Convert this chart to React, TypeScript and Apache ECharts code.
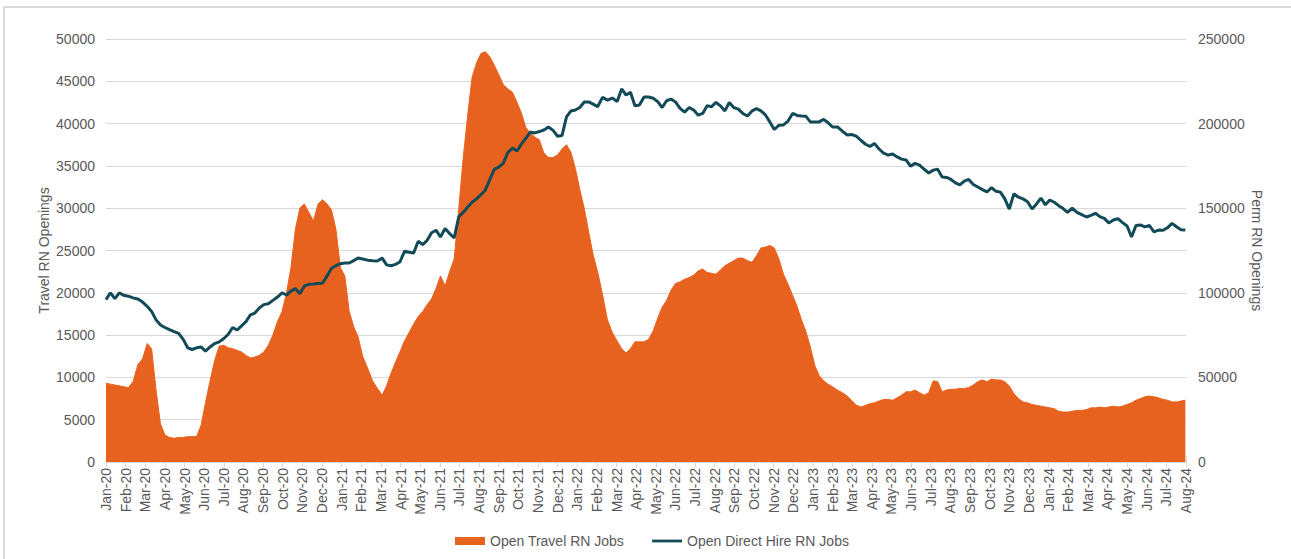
import React, { useEffect, useRef } from 'react';
import * as echarts from 'echarts';

const monthLabels = [
  'Jan-20','Feb-20','Mar-20','Apr-20','May-20','Jun-20','Jul-20','Aug-20','Sep-20','Oct-20','Nov-20','Dec-20',
  'Jan-21','Feb-21','Mar-21','Apr-21','May-21','Jun-21','Jul-21','Aug-21','Sep-21','Oct-21','Nov-21','Dec-21',
  'Jan-22','Feb-22','Mar-22','Apr-22','May-22','Jun-22','Jul-22','Aug-22','Sep-22','Oct-22','Nov-22','Dec-22',
  'Jan-23','Feb-23','Mar-23','Apr-23','May-23','Jun-23','Jul-23','Aug-23','Sep-23','Oct-23','Nov-23','Dec-23',
  'Jan-24','Feb-24','Mar-24','Apr-24','May-24','Jun-24','Jul-24','Aug-24',
];

// Weekly readings, starting on 1 Jan 2020
const travelJobs = [
  9300, 9200, 9100, 9000, 8900, 8800, 9500, 11500, 12200, 14000,
  13400, 8500, 4500, 3200, 2900, 2800, 2900, 2900, 3000, 3000,
  3000, 4300, 7000, 9600, 12000, 13700, 13800, 13500, 13400, 13200,
  13000, 12600, 12300, 12400, 12600, 13000, 13800, 15000, 16600, 17800,
  20000, 23000, 27500, 30000, 30500, 29500, 28500, 30500, 31000, 30500,
  29800, 27500, 23000, 22000, 17800, 16000, 14800, 12500, 11100, 9600,
  8700, 7900, 9000, 10500, 11800, 13000, 14300, 15300, 16300, 17200,
  17800, 18600, 19300, 20500, 22000, 20800, 22500, 24000, 30000, 36000,
  41000, 45500, 47200, 48300, 48500, 47900, 46900, 45800, 44600, 44100,
  43700, 42500, 41200, 39500, 38900, 38400, 38100, 36500, 36000, 36000,
  36300, 37000, 37500, 36600, 34700, 32200, 30000, 27200, 24500, 22500,
  19800, 16800, 15300, 14300, 13400, 12900, 13400, 14200, 14200, 14200,
  14500, 15500, 17000, 18300, 19100, 20300, 21100, 21300, 21600, 21800,
  22100, 22600, 22800, 22400, 22300, 22200, 22700, 23200, 23500, 23800,
  24100, 24100, 23800, 23600, 24400, 25300, 25400, 25600, 25300, 24000,
  22200, 21000, 19700, 18400, 16800, 15400, 13600, 11400, 10200, 9600,
  9200, 8900, 8500, 8200, 7800, 7200, 6700, 6500, 6700, 6900,
  7000, 7200, 7400, 7400, 7300, 7600, 7900, 8300, 8300, 8500,
  8200, 7900, 8200, 9600, 9500, 8300, 8500, 8600, 8600, 8700,
  8700, 8800, 9100, 9500, 9700, 9500, 9800, 9700, 9700, 9500,
  9000, 8100, 7500, 7100, 7000, 6800, 6700, 6600, 6500, 6400,
  6300, 6000, 5900, 5900, 6000, 6100, 6100, 6200, 6400, 6400,
  6500, 6400, 6500, 6600, 6500, 6600, 6800, 7000, 7300, 7500,
  7700, 7800, 7700, 7600, 7400, 7300, 7100, 7100, 7200, 7300,
];

const directHireJobs = [
  96000, 100000, 96500, 100000, 98500, 98000, 97000, 96300, 94500, 92000,
  89000, 84000, 81000, 79500, 78200, 77000, 76000, 72500, 67500, 66500,
  67500, 68000, 65500, 68000, 70000, 71000, 73000, 75500, 79500, 78000,
  80500, 83000, 87000, 88000, 91000, 93000, 93500, 95500, 97500, 99900,
  98700, 101000, 102500, 99500, 104000, 105000, 105200, 105500, 105800, 110000,
  114500, 116000, 117200, 117600, 117600, 119000, 120600, 120000, 119300, 119000,
  118800, 120500, 116500, 116000, 116800, 118200, 124500, 124000, 123500, 130500,
  128500, 131000, 135500, 137000, 133000, 138000, 135000, 132500, 145000, 147500,
  150700, 153500, 155500, 158000, 160800, 167000, 173000, 174300, 176700, 183000,
  185500, 183800, 188000, 191500, 195000, 194500, 195300, 196200, 198000, 196000,
  192500, 193000, 204000, 207500, 208000, 209500, 212800, 212800, 211500, 210000,
  215500, 213900, 215100, 213000, 220500, 216900, 218500, 210500, 211000, 215700,
  215700, 215000, 213000, 209500, 213500, 214500, 212800, 209000, 206800, 209500,
  208000, 205000, 206000, 210500, 210000, 212500, 210500, 207500, 212500, 209500,
  208500, 206000, 204500, 207500, 208800, 207500, 205100, 201000, 196500, 199000,
  199200, 201500, 206000, 204800, 204500, 204300, 201000, 200900, 201000, 202500,
  200500, 198000, 198000, 195500, 193300, 193500, 192500, 190000, 187800, 186500,
  188300, 185000, 182500, 181400, 182000, 180300, 179000, 178500, 174800, 176500,
  175500, 173000, 170800, 172500, 173000, 168500, 168200, 167000, 165000, 163800,
  166000, 167000, 164000, 162500, 161000, 159600, 162200, 160000, 159500, 155500,
  149500, 158500, 156500, 155500, 153800, 149500, 152500, 156000, 152000, 154800,
  153500, 151500, 149800, 147500, 150000, 147500, 146200, 144800, 145800, 147000,
  145000, 144000, 141300, 143000, 143800, 141500, 139500, 133000, 139800, 140100,
  139000, 139800, 136000, 137100, 137000, 138500, 141000, 139000, 137300, 137100,
];

const START = Date.UTC(2020, 0, 1);
const DAY = 86400000;

// position of the i-th weekly reading in months since Jan-20
function monthPosition(i: number): number {
  const d = new Date(START + i * 7 * DAY);
  const y = d.getUTCFullYear();
  const m = d.getUTCMonth();
  const day = d.getUTCDate();
  const dim = new Date(Date.UTC(y, m + 1, 0)).getUTCDate();
  return (y - 2020) * 12 + m + (day - 1) / dim;
}

const ORANGE = '#E8621F';
const TEAL = '#124B57';
const TEXT = '#595959';
const GRID = '#D9D9D9';
const FONT = '"Liberation Sans", Arial, sans-serif';

// thin horizontal bar centred in a 30x8 box (extra moveTo points keep the box size)
const LINE_ICON = 'path://M0,0 M0,2.6 L30,2.6 L30,5.4 L0,5.4 Z M30,8';

export default function App() {
  const ref = useRef<HTMLDivElement>(null);

  useEffect(() => {
    if (!ref.current) return;
    const chart = echarts.init(ref.current, undefined, { renderer: 'svg' });
    const travelData = travelJobs.map((v, i) => [monthPosition(i), v]);
    const directData = directHireJobs.map((v, i) => [monthPosition(i), v]);

    chart.setOption({
      animation: false,
      textStyle: { fontFamily: FONT },
      graphic: [
        {
          type: 'rect',
          shape: { x: 4, y: 7, width: 1300, height: 600 },
          style: { fill: 'none', stroke: GRID, lineWidth: 2 },
          silent: true,
          z: -10,
        },
      ],
      grid: { left: 106, right: 105, top: 39, bottom: 97, containLabel: false },
      legend: {
        bottom: 6,
        left: 450,
        itemWidth: 30,
        itemHeight: 8,
        itemGap: 28,
        textStyle: { color: TEXT, fontSize: 14, fontFamily: FONT },
        data: [
          { name: 'Open Travel RN Jobs', icon: 'rect' },
          { name: 'Open Direct Hire RN Jobs', icon: LINE_ICON, itemStyle: { color: TEAL, borderWidth: 0 } },
        ],
      },
      xAxis: [
        {
          type: 'value',
          min: 0,
          max: 55,
          interval: 1,
          position: 'bottom',
          axisLine: { show: true, lineStyle: { color: GRID, width: 1 } },
          axisTick: { show: true, length: 5, lineStyle: { color: GRID } },
          splitLine: { show: false },
          axisLabel: {
            rotate: 90,
            color: TEXT,
            fontSize: 14,
            fontFamily: FONT,
            margin: 6,
            formatter: (v: number) => monthLabels[Math.round(v)] ?? '',
          },
        },
        {
          type: 'value',
          min: 0,
          max: 56,
          interval: 2,
          position: 'top',
          axisLine: { show: true, lineStyle: { color: GRID, width: 1 } },
          axisTick: { show: true, length: 6, lineStyle: { color: GRID } },
          axisLabel: { show: false },
          splitLine: { show: false },
        },
      ],
      yAxis: [
        {
          type: 'value',
          min: 0,
          max: 50000,
          interval: 5000,
          name: 'Travel RN Openings',
          nameLocation: 'middle',
          nameGap: 55,
          nameMoveOverlap: false,
          nameTextStyle: { color: TEXT, fontSize: 14, fontFamily: FONT },
          axisLine: { show: false },
          axisTick: { show: false },
          axisLabel: {
            color: TEXT,
            fontSize: 14,
            fontFamily: FONT,
            margin: 11,
            formatter: (v: number) => String(v),
          },
          splitLine: { show: true, lineStyle: { color: GRID, width: 1 } },
        },
        {
          type: 'value',
          min: 0,
          max: 250000,
          interval: 50000,
          name: 'Perm RN Openings',
          nameLocation: 'middle',
          nameGap: 64,
          nameMoveOverlap: false,
          nameRotate: -90,
          nameTextStyle: { color: TEXT, fontSize: 14, fontFamily: FONT },
          axisLine: { show: false },
          axisTick: { show: false },
          axisLabel: {
            color: TEXT,
            fontSize: 14,
            fontFamily: FONT,
            margin: 12,
            formatter: (v: number) => String(v),
          },
          splitLine: { show: false },
        },
      ],
      series: [
        {
          name: 'Open Travel RN Jobs',
          type: 'line',
          xAxisIndex: 0,
          yAxisIndex: 0,
          data: travelData,
          symbol: 'none',
          showSymbol: false,
          itemStyle: { color: ORANGE },
          lineStyle: { color: ORANGE, width: 1 },
          areaStyle: { color: ORANGE, opacity: 1 },
          z: 2,
        },
        {
          name: 'Open Direct Hire RN Jobs',
          type: 'line',
          xAxisIndex: 0,
          yAxisIndex: 1,
          data: directData,
          symbol: 'none',
          showSymbol: false,
          itemStyle: { color: TEAL },
          lineStyle: { color: TEAL, width: 3 },
          z: 3,
        },
      ],
    });
    return () => chart.dispose();
  }, []);

  return (
    <div
      ref={ref}
      style={{ position: 'fixed', left: 0, top: 0, width: 1291, height: 559, background: '#fff' }}
    />
  );
}
